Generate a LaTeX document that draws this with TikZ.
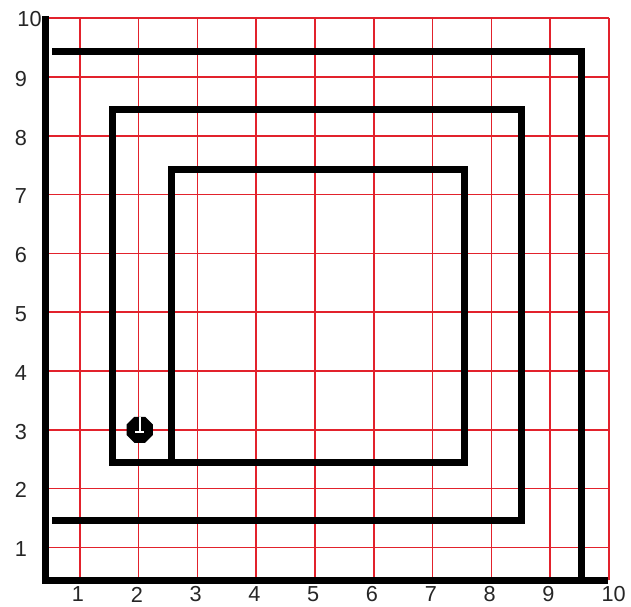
\documentclass[tikz,border=0pt]{standalone}
\usepackage{fontspec}
\setmainfont{Liberation Sans}
\usetikzlibrary{shapes.geometric}
\definecolor{gridred}{RGB}{226,34,44}
\tikzset{
  gridline/.style={draw=gridred, line width=0.7pt},
  wall/.style={draw=black, line width=3.4pt, line cap=butt, line join=miter},
  axislabel/.style={font=\fontsize{10.5}{12}\selectfont, text=black!85, inner sep=0pt},
  robot/.style={regular polygon, regular polygon sides=8, fill=black, draw=none, minimum size=0.48cm, inner sep=0pt},
  robotmark/.style={draw=white, line width=0.9pt}
}
\begin{document}
\begin{tikzpicture}[x=1cm,y=1cm]
\useasboundingbox[fill=white] (-0.357,0) rectangle (10.375,10.31);
% grid
\foreach \k in {1,...,10} {
  \draw[gridline] (\k,0.44) -- (\k,10);
  \draw[gridline] (0.42,\k) -- (10,\k);
}
% labels
\foreach \k in {1,...,9} {
  \node[axislabel] (bx\k) at (\k-0.03,0.2) {\k};
  \node[axislabel] (ly\k) at (0,\k-0.03) {\k};
}
\node[axislabel] (bx10) at (10.08,0.2) {10};
\node[axislabel] (ly10) at (0.145,9.98) {10};
% outer frame
\draw[wall] (0.42,10.04) -- (0.42,0.44) -- (9.98,0.44);
% outer spiral arm
\draw[wall] (0.53,9.44) -- (9.54,9.44) -- (9.54,0.44);
% inner spiral
\draw[wall] (0.53,1.45) -- (8.52,1.45) -- (8.52,8.45) -- (1.55,8.45) -- (1.55,2.44)
  -- (7.54,2.44) -- (7.54,7.43) -- (2.56,7.43) -- (2.56,2.44);
% robot
\node[robot] (karel) at (2.02,3.0) {};
\draw[robotmark] (karel.center) ++(0,0.21) coordinate (ktop) -- ++(0,-0.25) coordinate (kmid);
\draw[robotmark] (kmid) ++(-0.08,0) coordinate (kl) -- ++(0.16,0) coordinate (kr);
\end{tikzpicture}
\end{document}
